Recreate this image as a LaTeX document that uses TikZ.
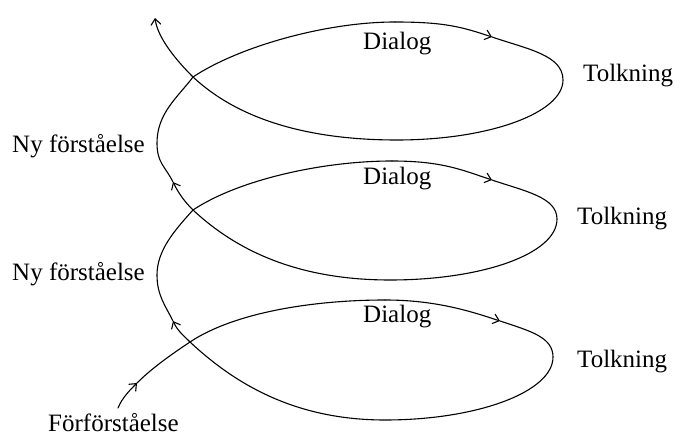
\documentclass[tikz,border=0pt]{standalone}
\usepackage{fontspec}
\setmainfont{Liberation Serif}
\usetikzlibrary{arrows.meta}
\begin{document}
\begin{tikzpicture}[x=1pt,y=1pt,
  lbl/.style={font=\fontsize{25}{30}\selectfont, inner sep=0pt, anchor=base west},
  spiral/.style={line width=1.1pt, line cap=round, line join=round},
  arr/.style={spiral, -{Straight Barb[length=6pt,width=10pt,line width=1.1pt]}}]
\useasboundingbox (0,0) rectangle (675,437);
% curve points
\coordinate (S)  at (118,29);
\coordinate (A1) at (137,54);
\coordinate (C1) at (190,95);
\coordinate (T3) at (385,137);
\coordinate (A3) at (500,116);
\coordinate (R3) at (553,80);
\coordinate (B3) at (385,17);
\coordinate (A4) at (173,116);
\coordinate (L2) at (157,162);
\coordinate (C2) at (193,227);
\coordinate (T2) at (392,276);
\coordinate (A5) at (492,257);
\coordinate (R2) at (557,218);
\coordinate (B2) at (390,157);
\coordinate (A6) at (173,255);
\coordinate (L1) at (157,294);
\coordinate (C3) at (193,360);
\coordinate (T1) at (395,415);
\coordinate (A7) at (492,400);
\coordinate (R1) at (563,357);
\coordinate (B1) at (397,297);
\coordinate (E)  at (155,419);
% bottom turn
\draw[arr] (S) .. controls +(4,10) and +(-7,-7) .. (A1);
\draw[spiral] (A1) .. controls +(15,15) and +(-18,-12) .. (C1)
  .. controls +(45,30) and +(-70,0) .. (T3);
\draw[arr] (T3) .. controls +(50,0) and +(-30,10) .. (A3);
\draw[spiral] (A3) .. controls +(30,-10) and +(0,20) .. (R3)
  .. controls +(0,-35) and +(92,0) .. (B3)
  .. controls +(-90,0) and +(45,-42) .. (C1);
\draw[arr] (C1) .. controls +(-10,10) and +(5,-10) .. (A4);
% middle turn
\draw[spiral] (A4) .. controls +(-8,16) and +(0,-20) .. (L2)
  .. controls +(0,25) and +(-18,-20) .. (C2)
  .. controls +(45,30) and +(-70,0) .. (T2);
\draw[arr] (T2) .. controls +(50,0) and +(-30,10) .. (A5);
\draw[spiral] (A5) .. controls +(32,-11) and +(0,22) .. (R2)
  .. controls +(0,-35) and +(92,0) .. (B2)
  .. controls +(-90,0) and +(45,-42) .. (C2);
\draw[arr] (C2) .. controls +(-10,10) and +(5,-10) .. (A6);
% top turn
\draw[spiral] (A6) .. controls +(-8,16) and +(0,-20) .. (L1)
  .. controls +(0,30) and +(-15,-20) .. (C3)
  .. controls +(45,30) and +(-70,0) .. (T1);
\draw[arr] (T1) .. controls +(50,0) and +(-30,10) .. (A7);
\draw[spiral] (A7) .. controls +(35,-12) and +(0,25) .. (R1)
  .. controls +(0,-33) and +(92,0) .. (B1)
  .. controls +(-90,0) and +(45,-42) .. (C3);
\draw[arr] (C3) .. controls +(-25,25) and +(2,-15) .. (E);
% labels
\node[lbl] (d1) at (363,387) {Dialog};
\node[lbl] (d2) at (363,252) {Dialog};
\node[lbl] (d3) at (363,114) {Dialog};
\node[lbl] (t1) at (583,355) {Tolkning};
\node[lbl] (t2) at (577,212) {Tolkning};
\node[lbl] (t3) at (577,70) {Tolkning};
\node[lbl] (n1) at (12,284) {Ny förståelse};
\node[lbl] (n2) at (12,157) {Ny förståelse};
\node[lbl] (f)  at (48,6) {Förförståelse};
\end{tikzpicture}
\end{document}
